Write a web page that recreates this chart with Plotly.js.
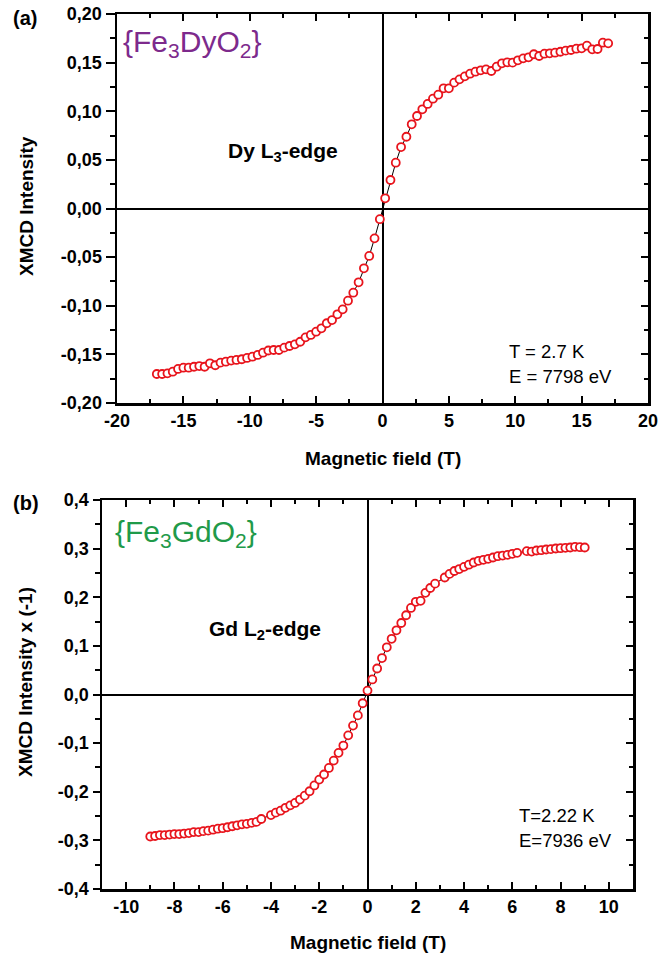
<!DOCTYPE html>
<html>
<head>
<meta charset="utf-8">
<script src="https://cdn.plot.ly/plotly-3.0.1.min.js"></script>
<style>html,body{margin:0;padding:0;background:#fff;}#chart{width:660px;height:958px;}</style>
</head>
<body>
<div id="chart"></div>
<script>
// ---------- DATA ----------
// (a) Dy L3-edge, Fe3DyO2
const dyField = [-17.0,-16.6,-16.2,-15.8,-15.4,-15.0,-14.6,-14.2,-13.8,-13.4,-13.0,-12.6,-12.2,-11.8,-11.4,-11.0,-10.6,-10.2,-9.8,-9.4,-9.0,-8.6,-8.2,-7.8,-7.4,-7.0,-6.6,-6.2,-5.8,-5.4,-5.0,-4.6,-4.2,-3.8,-3.4,-3.0,-2.6,-2.2,-1.8,-1.4,-1.0,-0.6,-0.2,
  0.2,0.6,1.0,1.4,1.8,2.2,2.6,3.0,3.4,3.8,4.2,4.6,5.0,5.4,5.8,6.2,6.6,7.0,7.4,7.8,8.2,8.6,9.0,9.4,9.8,10.2,10.6,11.0,11.4,11.8,12.2,12.6,13.0,13.4,13.8,14.2,14.6,15.0,15.4,15.8,16.2,16.6,17.0];
const dyXmcd = [-0.1702,-0.1702,-0.1695,-0.1678,-0.1650,-0.1637,-0.1637,-0.1627,-0.1620,-0.1627,-0.1592,-0.1612,-0.1585,-0.1575,-0.1564,-0.1557,-0.1550,-0.1537,-0.1524,-0.1506,-0.1483,-0.1460,-0.1455,-0.1455,-0.1431,-0.1414,-0.1397,-0.1370,-0.1325,-0.1300,-0.1267,-0.1232,-0.1180,-0.1147,-0.1088,-0.1037,-0.0948,-0.0866,-0.0759,-0.0615,-0.0488,-0.0307,-0.0110,
  0.0105,0.0293,0.0471,0.0632,0.0738,0.0866,0.0951,0.1020,0.1075,0.1129,0.1170,0.1236,0.1236,0.1294,0.1328,0.1359,0.1386,0.1407,0.1421,0.1431,0.1414,0.1458,0.1493,0.1503,0.1500,0.1524,0.1544,0.1555,0.1586,0.1568,0.1592,0.1596,0.1602,0.1612,0.1623,0.1630,0.1643,0.1647,0.1674,0.1637,0.1640,0.1705,0.1698];

// (b) Gd L2-edge, Fe3GdO2 (XMCD x -1)
const gdField = [-9.0,-8.8,-8.6,-8.4,-8.2,-8.0,-7.8,-7.6,-7.4,-7.2,-7.0,-6.8,-6.6,-6.4,-6.2,-6.0,-5.8,-5.6,-5.4,-5.2,-5.0,-4.8,-4.6,-4.4,-4.0,-3.8,-3.6,-3.4,-3.2,-3.0,-2.8,-2.6,-2.4,-2.2,-2.0,-1.8,-1.6,-1.4,-1.2,-1.0,-0.8,-0.6,-0.4,-0.2,
  0.0,0.2,0.4,0.6,0.8,1.0,1.2,1.4,1.6,1.8,2.0,2.2,2.4,2.6,2.8,3.2,3.4,3.6,3.8,4.0,4.2,4.4,4.6,4.8,5.0,5.2,5.4,5.6,5.8,6.0,6.2,6.6,6.8,7.0,7.2,7.4,7.6,7.8,8.0,8.2,8.4,8.6,8.8,9.0];
const gdXmcd = [-0.292,-0.291,-0.289,-0.289,-0.288,-0.287,-0.287,-0.286,-0.285,-0.283,-0.283,-0.281,-0.280,-0.278,-0.276,-0.275,-0.273,-0.271,-0.269,-0.267,-0.266,-0.264,-0.262,-0.256,-0.248,-0.243,-0.239,-0.233,-0.228,-0.223,-0.216,-0.208,-0.199,-0.187,-0.175,-0.1645,-0.151,-0.136,-0.120,-0.105,-0.084,-0.064,-0.043,-0.018,
  0.008,0.031,0.0535,0.075,0.097,0.1145,0.132,0.147,0.163,0.178,0.1906,0.1926,0.209,0.219,0.228,0.2406,0.248,0.254,0.258,0.2625,0.267,0.2715,0.275,0.277,0.279,0.2817,0.2844,0.2858,0.2872,0.2893,0.2913,0.2948,0.294,0.2961,0.2968,0.2982,0.2989,0.3003,0.3009,0.3016,0.3023,0.3037,0.303,0.3023];

// Tick labels
const aXTickVals = [-20,-15,-10,-5,0,5,10,15,20];
const aXTickText = ['-20','-15','-10','-5','0','5','10','15','20'];
const aYTickVals = [-0.20,-0.15,-0.10,-0.05,0,0.05,0.10,0.15,0.20];
const aYTickText = ['-0,20','-0,15','-0,10','-0,05','0,00','0,05','0,10','0,15','0,20'];
const bXTickVals = [-10,-8,-6,-4,-2,0,2,4,6,8,10];
const bXTickText = ['-10','-8','-6','-4','-2','0','2','4','6','8','10'];
const bYTickVals = [-0.4,-0.3,-0.2,-0.1,0,0.1,0.2,0.3,0.4];
const bYTickText = ['-0,4','-0,3','-0,2','-0,1','0,0','0,1','0,2','0,3','0,4'];

// ---------- STYLE ----------
const W = 660, H = 958;
const px = x => x / W;
const py = y => 1 - y / H;
const FONT = 'Liberation Sans, Arial, sans-serif';
const tickFont = {family: FONT, size: 18, color: '#000', weight: 'bold'};

const markerStyle = {symbol: 'circle', size: 8, color: '#ffffff', line: {color: '#e8141c', width: 1.8}};
const lineStyle = {color: '#000', width: 1};

const traces = [
  {x: dyField, y: dyXmcd, xaxis: 'x', yaxis: 'y', type: 'scatter', mode: 'lines+markers', line: lineStyle, marker: markerStyle, hoverinfo: 'skip'},
  {x: gdField, y: gdXmcd, xaxis: 'x2', yaxis: 'y2', type: 'scatter', mode: 'lines+markers', line: lineStyle, marker: markerStyle, hoverinfo: 'skip'},
  // empty traces that only register the right-hand tick axes
  {x: [], y: [], xaxis: 'x', yaxis: 'y3', type: 'scatter', mode: 'markers', hoverinfo: 'skip'},
  {x: [], y: [], xaxis: 'x2', yaxis: 'y4', type: 'scatter', mode: 'markers', hoverinfo: 'skip'}
];

function xAxis(domain, range, vals, text, minorD, anchor) {
  return {
    domain: domain, range: range, anchor: anchor, automargin: false,
    showgrid: false, zeroline: true, zerolinecolor: '#000', zerolinewidth: 2,
    showline: true, linecolor: '#000', linewidth: 2.5, mirror: 'ticks',
    ticks: 'inside', ticklen: 7, tickwidth: 2, tickcolor: '#000',
    tickmode: 'array', tickvals: vals, ticktext: text, tickfont: tickFont,
    minor: {ticks: 'inside', ticklen: 4, tickwidth: 2, tickcolor: '#000', tickmode: 'linear', tick0: 0, dtick: minorD, showgrid: false}
  };
}
function yAxis(domain, range, vals, text, minorD, anchor, ticklen) {
  return {
    domain: domain, range: range, anchor: anchor, automargin: false,
    showgrid: false, zeroline: true, zerolinecolor: '#000', zerolinewidth: 2,
    showline: true, linecolor: '#000', linewidth: 2.5, mirror: true,
    ticks: 'outside', ticklen: ticklen, tickwidth: 2, tickcolor: '#000',
    tickmode: 'array', tickvals: vals, ticktext: text, tickfont: tickFont,
    minor: {ticks: 'outside', ticklen: 5, tickwidth: 2, tickcolor: '#000', tickmode: 'linear', tick0: 0, dtick: minorD, showgrid: false}
  };
}
function yRight(range, vals, minorD, overlay, anchor) {
  return {
    overlaying: overlay, side: 'right', anchor: anchor, range: range, automargin: false,
    showgrid: false, zeroline: false, showline: false, showticklabels: false,
    ticks: 'inside', ticklen: 7, tickwidth: 2, tickcolor: '#000',
    tickmode: 'array', tickvals: vals,
    minor: {ticks: 'inside', ticklen: 4, tickwidth: 2, tickcolor: '#000', tickmode: 'linear', tick0: 0, dtick: minorD, showgrid: false}
  };
}

const aDomX = [px(117), px(648)], aDomY = [py(403), py(14)];
const bDomX = [px(102), px(633)], bDomY = [py(889), py(500)];

function ann(text, x, y, size, color, opts) {
  return Object.assign({text: text, x: px(x), y: py(y), xref: 'paper', yref: 'paper', showarrow: false,
    xanchor: 'left', yanchor: 'middle', font: {family: FONT, size: size, color: color}}, opts || {});
}

const annotations = [
  ann('<b>(a)</b>', 25, 18, 20, '#000', {xanchor: 'center'}),
  ann('<b>(b)</b>', 26, 503, 20, '#000', {xanchor: 'center'}),
  ann('{Fe<sub>3</sub>DyO<sub>2</sub>}', 121, 44, 30, '#7d2a8c'),
  ann('{Fe<sub>3</sub>GdO<sub>2</sub>}', 113, 533, 30, '#1f9a4a'),
  ann('<b>Dy L<sub>3</sub>-edge</b>', 226, 152, 21, '#000'),
  ann('<b>Gd L<sub>2</sub>-edge</b>', 207, 630, 21, '#000'),
  ann('T = 2.7 K', 507, 352, 18.5, '#000'),
  ann('E = 7798 eV', 507, 377, 18.5, '#000'),
  ann('T=2.22 K', 517, 815, 18.5, '#000'),
  ann('E=7936 eV', 517, 840, 18.5, '#000'),
  ann('<b>Magnetic field (T)</b>', 383, 459, 19, '#000', {xanchor: 'center'}),
  ann('<b>Magnetic field (T)</b>', 368, 942, 19, '#000', {xanchor: 'center'}),
  ann('<b>XMCD Intensity</b>', 26, 206, 19, '#000', {xanchor: 'center', textangle: -90}),
  ann('<b>XMCD Intensity x (-1)</b>', 25, 682, 19, '#000', {xanchor: 'center', textangle: -90})
];

const layout = {
  width: W, height: H,
  margin: {l: 0, r: 0, t: 0, b: 0, pad: 0},
  paper_bgcolor: '#fff', plot_bgcolor: '#fff',
  showlegend: false,
  font: {family: FONT, color: '#000'},
  xaxis: xAxis(aDomX, [-20, 20], aXTickVals, aXTickText, 2.5, 'y'),
  yaxis: yAxis(aDomY, [-0.2, 0.2], aYTickVals, aYTickText, 0.025, 'x', 9),
  xaxis2: xAxis(bDomX, [-11, 11], bXTickVals, bXTickText, 1, 'y2'),
  yaxis2: yAxis(bDomY, [-0.4, 0.4], bYTickVals, bYTickText, 0.05, 'x2', 7),
  yaxis3: yRight([-0.2, 0.2], aYTickVals, 0.025, 'y', 'x'),
  yaxis4: yRight([-0.4, 0.4], bYTickVals, 0.05, 'y2', 'x2'),
  annotations: annotations
};

Plotly.newPlot('chart', traces, layout, {staticPlot: true, displayModeBar: false});
</script>
</body>
</html>
